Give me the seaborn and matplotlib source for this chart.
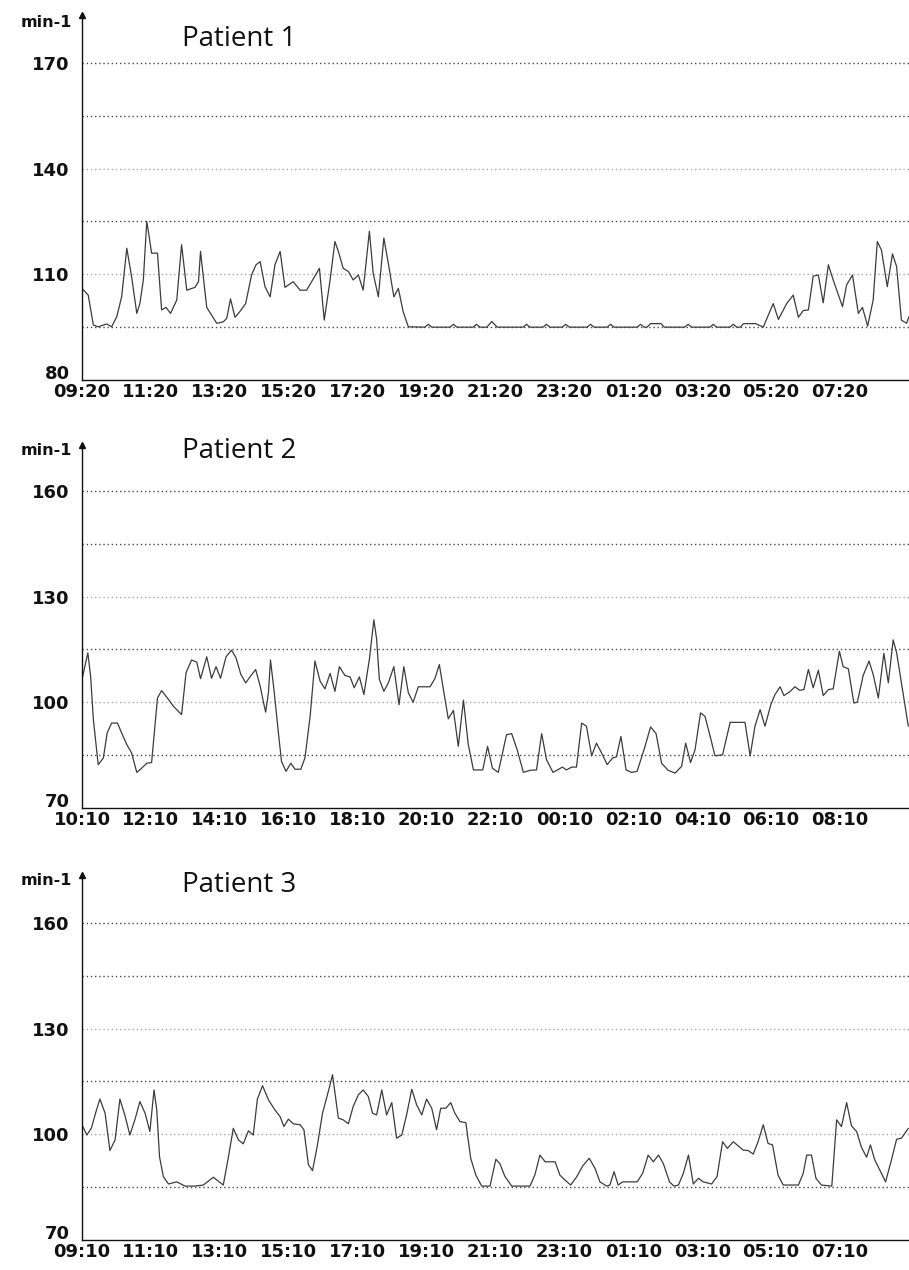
import matplotlib
matplotlib.use("Agg")
import matplotlib.pyplot as plt
import matplotlib.transforms as mtransforms
import seaborn as sns
import pandas as pd

sns.set_style("white")
plt.rcParams['font.family'] = ['DejaVu Sans']

# ---------------- data (hours since start, heart rate min-1) ----------------
p1_hours = [0.0, 0.18, 0.33, 0.47, 0.72, 0.86, 1.01, 1.15, 1.30, 1.44, 1.59, 1.68, 1.78, 1.88, 1.92,
            2.02, 2.19, 2.31, 2.44, 2.57, 2.75, 2.89, 3.04, 3.28, 3.38, 3.44, 3.52, 3.62, 3.76, 3.91,
            4.10, 4.20, 4.31, 4.44, 4.58, 4.75, 4.92, 5.05, 5.17, 5.31, 5.46, 5.60, 5.75, 5.89, 6.13,
            6.33, 6.52, 6.89, 7.03, 7.20, 7.34, 7.44, 7.58, 7.73, 7.87, 8.02, 8.16, 8.34, 8.45, 8.60,
            8.76, 8.89, 9.05, 9.18, 9.32, 9.47,
            9.95, 10.05, 10.15, 10.68, 10.78, 10.88, 11.35, 11.45, 11.55, 11.75, 11.89, 12.05,
            12.80, 12.90, 13.00, 13.38, 13.48, 13.58, 13.94, 14.04, 14.14, 14.66, 14.76, 14.86,
            15.24, 15.34, 15.44, 16.11, 16.21, 16.31, 16.40, 16.50, 16.80, 16.90, 17.49, 17.59, 17.69,
            18.22, 18.32, 18.42, 18.80, 18.90, 19.00, 19.10, 19.20, 19.55, 19.77,
            20.06, 20.21, 20.45, 20.64, 20.79, 20.93, 21.08, 21.22, 21.37, 21.51, 21.66, 21.80, 22.07,
            22.19, 22.36, 22.53, 22.65, 22.80, 22.96, 23.08, 23.20, 23.37, 23.52, 23.64, 23.78, 23.93, 24.0]
p1_hr = [106.0, 104.1, 95.6, 95.1, 95.9, 95.1, 98.0, 103.6, 117.4, 109.3, 98.9, 101.7, 108.4, 125.0, 122.6,
         116.0, 116.0, 99.9, 100.6, 98.9, 102.7, 118.4, 105.5, 106.3, 107.9, 116.5, 109.3, 100.6, 98.4, 96.1,
         96.5, 97.5, 103.0, 97.8, 99.4, 101.7, 109.8, 112.7, 113.6, 106.5, 103.6, 112.7, 116.5, 106.3, 107.9,
         105.5, 105.5, 111.7, 97.0, 108.4, 119.3, 116.5, 111.7, 110.8, 108.4, 109.8, 105.5, 122.2, 110.3, 103.6,
         120.3, 113.1, 103.6, 106.0, 99.4, 95.1,
         95.0, 95.8, 95.0, 95.0, 95.8, 95.0, 95.0, 95.8, 95.0, 95.0, 96.6, 95.0,
         95.0, 95.8, 95.0, 95.0, 95.8, 95.0, 95.0, 95.8, 95.0, 95.0, 95.8, 95.0,
         95.0, 95.8, 95.0, 95.0, 95.8, 95.0, 95.0, 96.0, 96.0, 95.0, 95.0, 95.8, 95.0,
         95.0, 95.8, 95.0, 95.0, 95.8, 95.0, 95.0, 96.0, 96.0, 95.0,
         101.7, 97.2, 101.7, 104.1, 97.8, 99.7, 99.9, 109.5, 109.8, 101.9, 112.7, 108.4, 100.8,
         107.0, 109.8, 98.9, 100.6, 95.3, 102.7, 119.3, 116.9, 106.5, 115.8, 112.2, 97.0, 96.1, 98.0]

p2_hours = [0.0, 0.17, 0.25, 0.33, 0.47, 0.62, 0.73, 0.86, 1.03, 1.15, 1.30, 1.44, 1.59, 1.73, 1.88,
            2.02, 2.19, 2.31, 2.48, 2.65, 2.89, 3.02, 3.18, 3.33, 3.44, 3.62, 3.76, 3.89, 4.02, 4.18,
            4.34, 4.47, 4.61, 4.75, 4.89, 5.04, 5.17, 5.26, 5.33, 5.41, 5.47, 5.57, 5.70, 5.79, 5.92,
            6.06, 6.18, 6.35, 6.47, 6.62, 6.76, 6.91, 7.05, 7.20, 7.34, 7.47, 7.63, 7.78, 7.90, 8.05,
            8.18, 8.34, 8.47, 8.55, 8.63, 8.76, 8.89, 9.05, 9.20, 9.34, 9.47, 9.61, 9.76, 10.10, 10.24,
            10.37, 10.48, 10.63, 10.78, 10.92, 11.07, 11.21, 11.36, 11.63, 11.77, 11.91, 12.08, 12.32,
            12.47, 12.63, 12.81, 13.00, 13.19, 13.34, 13.48, 13.67, 13.94, 14.06, 14.21, 14.35, 14.50,
            14.64, 14.79, 14.93, 15.08, 15.24, 15.40, 15.51, 15.64, 15.79, 15.95, 16.11, 16.34, 16.50,
            16.66, 16.82, 17.01, 17.21, 17.40, 17.52, 17.66, 17.79, 17.95, 18.08, 18.23, 18.37, 18.59,
            18.81, 19.24, 19.39, 19.53, 19.68, 19.82, 19.99, 20.11, 20.26, 20.37, 20.53, 20.69, 20.83,
            20.95, 21.08, 21.22, 21.37, 21.51, 21.66, 21.80, 21.98, 22.09, 22.24, 22.40, 22.50, 22.67,
            22.84, 22.96, 23.11, 23.27, 23.40, 23.54, 23.64, 23.78, 23.98]
p2_hr = [106.5, 114.0, 107.4, 95.1, 82.3, 84.2, 91.3, 94.1, 94.1, 91.3, 88.0, 85.6, 80.1, 81.3, 82.7,
         82.9, 101.2, 103.3, 101.2, 98.9, 96.5, 108.4, 112.0, 111.4, 106.7, 112.9, 106.8, 110.1, 106.8, 112.9,
         114.8, 112.6, 107.9, 105.5, 107.4, 109.3, 104.6, 100.3, 97.2, 102.7, 112.0, 103.6, 91.3, 83.2, 80.4,
         82.7, 81.0, 81.0, 84.2, 96.0, 111.7, 106.0, 103.8, 108.2, 103.1, 110.1, 107.6, 107.2, 104.1, 107.2,
         102.2, 112.2, 123.4, 117.9, 106.5, 103.1, 105.5, 110.1, 99.3, 110.1, 102.7, 100.0, 104.4, 104.4, 106.7,
         110.7, 104.1, 95.3, 97.7, 87.5, 100.6, 88.0, 80.8, 80.8, 87.5, 81.3, 80.1, 90.8,
         91.1, 86.5, 80.1, 80.7, 80.8, 91.1, 83.7, 80.1, 81.6, 80.8, 81.6, 81.6, 94.1,
         93.2, 84.8, 88.4, 85.6, 82.3, 84.2, 84.5, 90.3, 80.8, 80.1, 80.4, 87.5, 93.0,
         91.1, 82.7, 80.7, 79.9, 81.8, 88.4, 82.9, 86.5, 97.0, 96.0, 90.3, 84.8, 85.1,
         94.3, 94.3, 84.8, 93.2, 97.9, 93.2, 99.3, 102.2, 104.4, 101.9, 102.9, 104.4, 103.4,
         103.6, 109.3, 104.1, 109.1, 101.9, 103.6, 103.8, 114.5, 110.1, 109.5, 99.8, 100.0, 107.6,
         111.7, 107.9, 101.2, 113.9, 105.5, 117.7, 114.1, 105.5, 93.2]

p3_hours = [0.0, 0.14, 0.27, 0.42, 0.52, 0.67, 0.81, 0.96, 1.10, 1.25, 1.39, 1.54, 1.68, 1.83, 1.97,
            2.09, 2.17, 2.25, 2.36, 2.51, 2.75, 2.99, 3.28, 3.52, 3.81, 4.10, 4.25, 4.39, 4.54, 4.68,
            4.83, 4.97, 5.09, 5.24, 5.41, 5.60, 5.75, 5.86, 5.99, 6.13, 6.33, 6.44, 6.57, 6.69, 6.83,
            6.98, 7.15, 7.27, 7.44, 7.58, 7.73, 7.87, 8.02, 8.16, 8.31, 8.43, 8.55, 8.70, 8.84, 8.99,
            9.13, 9.28, 9.42, 9.57, 9.71, 9.86, 10.00, 10.15, 10.29, 10.41, 10.56, 10.70, 10.82, 10.97,
            11.14, 11.28, 11.43, 11.60, 11.84, 12.01, 12.13, 12.27, 12.47, 13.00, 13.14, 13.29, 13.44,
            13.73, 13.87, 14.02, 14.18, 14.36, 14.53, 14.72, 14.89, 15.03, 15.23, 15.32, 15.44, 15.56,
            15.69, 16.11, 16.27, 16.43, 16.58, 16.73, 16.87, 17.05, 17.18, 17.31, 17.45, 17.60, 17.74,
            17.89, 18.03, 18.27, 18.43, 18.59, 18.73, 18.90, 19.19, 19.33, 19.48, 19.62, 19.77, 19.91,
            20.04, 20.20, 20.35, 20.79, 20.93, 21.03, 21.17, 21.30, 21.46, 21.76, 21.90, 22.04, 22.19,
            22.33, 22.48, 22.62, 22.77, 22.88, 23.00, 23.15, 23.32, 23.49, 23.64, 23.78, 23.98]
p3_hr = [102.7, 99.8, 101.7, 106.9, 110.0, 106.0, 95.4, 98.4, 110.0, 105.2, 99.8, 104.3, 109.3, 106.0, 100.8,
         112.6, 106.9, 93.6, 88.0, 85.9, 86.5, 85.3, 85.3, 85.6, 87.8, 85.6, 93.6, 101.7, 98.4, 97.3,
         101.0, 99.8, 110.0, 113.8, 109.8, 106.9, 105.0, 102.2, 104.3, 103.0, 102.7, 101.3, 91.4, 89.7, 96.8,
         106.0, 112.2, 116.9, 104.6, 104.1, 103.0, 107.9, 111.2, 112.6, 110.7, 106.0, 105.5, 112.6, 105.5, 109.0,
         98.9, 99.8, 105.5, 112.8, 108.4, 105.5, 110.0, 107.4, 101.3, 107.4, 107.4, 109.0, 106.0, 103.6,
         103.3, 93.2, 88.4, 85.3, 85.3, 92.9, 91.6, 88.1, 85.3, 85.3, 88.4, 94.1, 92.2,
         92.2, 88.4, 87.0, 85.6, 88.0, 91.0, 93.2, 90.3, 86.5, 85.3, 85.6, 89.4, 85.6,
         86.5, 86.5, 88.9, 94.1, 92.2, 94.1, 91.7, 86.5, 85.3, 85.6, 88.9, 94.1, 85.9,
         87.5, 86.5, 85.9, 88.0, 97.9, 96.0, 97.9, 95.5, 95.4, 94.4, 97.9, 102.7, 97.4,
         97.0, 88.4, 85.6, 85.6, 88.9, 94.1, 94.1, 87.5, 85.6, 85.3, 104.1, 102.2, 109.0,
         102.4, 100.8, 96.3, 93.5, 97.0, 92.9, 89.9, 86.5, 92.7, 98.6, 98.9, 101.7]

titles = ["Patient 1", "Patient 2", "Patient 3"]
tick_labels = [
    ["09:20", "11:20", "13:20", "15:20", "17:20", "19:20", "21:20", "23:20", "01:20", "03:20", "05:20", "07:20"],
    ["10:10", "12:10", "14:10", "16:10", "18:10", "20:10", "22:10", "00:10", "02:10", "04:10", "06:10", "08:10"],
    ["09:10", "11:10", "13:10", "15:10", "17:10", "19:10", "21:10", "23:10", "01:10", "03:10", "05:10", "07:10"],
]
y_ticks = [[80, 110, 140, 170], [70, 100, 130, 160], [70, 100, 130, 160]]
y_grid = [[95, 110, 125, 140, 155, 170], [85, 100, 115, 130, 145, 160], [85, 100, 115, 130, 145, 160]]
y_tops = [183.6, 173.0, 173.6]

series = [(p1_hours, p1_hr), (p2_hours, p2_hr), (p3_hours, p3_hr)]

# ---------------- layout ----------------
W, H = 909, 1270
fig = plt.figure(figsize=(W / 100, H / 100), dpi=100)
boxes = [(15, 380), (445, 808), (875, 1240)]
title_base = [46, 458, 892]
unit_base = [27, 455, 885]
left_px = 82

for i in range(3):
    top, bot = boxes[i]
    ax = fig.add_axes([left_px / W, 1 - bot / H, 1 - left_px / W, (bot - top) / H])
    df = pd.DataFrame({"h": series[i][0], "hr": series[i][1]})
    sns.lineplot(data=df, x="h", y="hr", ax=ax, color="#3c3c3c", linewidth=0.9,
                 estimator=None, sort=False)
    ax.set_xlim(0, 24)
    ax.set_ylim(y_ticks[i][0], y_tops[i])
    ax.set_xlabel("")
    ax.set_ylabel("")

    for g in y_grid[i]:
        light = (g in y_ticks[i]) and (g != max(y_ticks[i]))
        ax.axhline(g, color="#a8a8a8" if light else "#4a4a4a",
                   linestyle=(0, (1, 2)), linewidth=1.0, zorder=0)

    for s in ["top", "right"]:
        ax.spines[s].set_visible(False)
    for s in ["left", "bottom"]:
        ax.spines[s].set_color("#111111")
        ax.spines[s].set_linewidth(1.0)

    ax.set_yticks(y_ticks[i])
    ax.set_yticklabels([str(v) for v in y_ticks[i]], fontsize=13, fontweight="bold")
    ax.set_xticks(list(range(0, 24, 2)))
    ax.set_xticklabels(tick_labels[i], fontsize=13, fontweight="bold")
    ax.set_xticks(list(range(0, 25, 1)), minor=True)
    ax.tick_params(axis="y", direction="out", length=5, width=1, pad=4, colors="#111111")
    ax.tick_params(axis="x", which="both", direction="in", length=3, width=1, pad=2, colors="#111111")

    # lift the bottom y label a little so it does not collide with the first time label
    lab0 = ax.yaxis.get_major_ticks()[0].label1
    lab0.set_verticalalignment("baseline")
    lab0.set_transform(lab0.get_transform() +
                       mtransforms.ScaledTranslation(0, 1 / 72, fig.dpi_scale_trans))

    ax.plot([0], [1], marker="^", color="#111111", markersize=4,
            transform=ax.transAxes, clip_on=False)

    fig.text(182 / W, 1 - title_base[i] / H, titles[i], fontsize=20, family="Open Sans",
             va="baseline", ha="left", color="#111111")
    fig.text(72 / W, 1 - unit_base[i] / H, "min-1", fontsize=11.5, fontweight="bold",
             va="baseline", ha="right", color="#111111")

fig.savefig("out.png", dpi=100)
